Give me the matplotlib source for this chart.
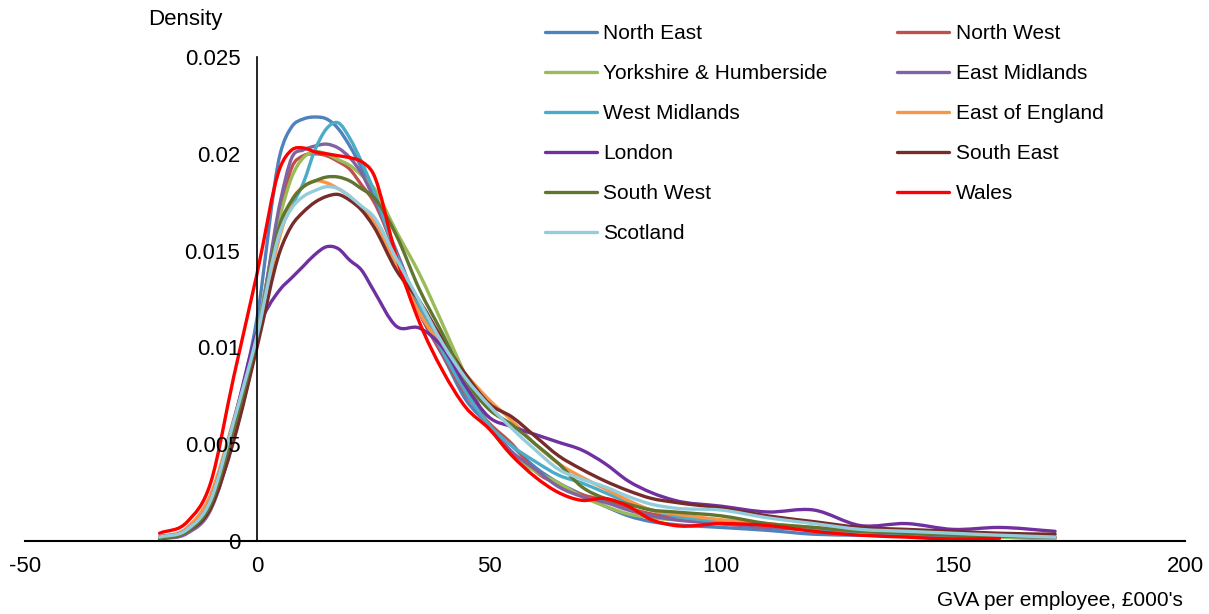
import numpy as np
import matplotlib
matplotlib.use("Agg")
import matplotlib.pyplot as plt
from matplotlib.path import Path
from matplotlib.patches import PathPatch
from matplotlib.lines import Line2D

plt.rcParams['font.family'] = ['Liberation Sans', 'DejaVu Sans']
plt.rcParams['axes.unicode_minus'] = False

# GVA per employee (£000's) at which the densities were read
gva = [-21, -15, -10, -5, 0, 5, 7.5, 10, 12.5, 15, 17.5, 20, 22.5, 25, 30, 35, 40, 45, 50,
       55, 60, 65, 70, 75, 80, 85, 90, 100, 110, 120, 130, 140, 150, 160, 172]

nan = np.nan
# densities, in thousandths
north_east = [0.2, 0.6, 2.0, 6.0, 11.5, 20.0, 21.4, 21.8, 21.9, 21.8, 21.3, 20.4, 19.3, 18.0, 14.8, 11.8, 9.6, 7.3, 6.0,
              4.9, 3.8, 3.0, 2.4, 1.8, 1.3, 1.0, 0.85, 0.7, 0.55, 0.35, 0.3, 0.25, 0.2, 0.1, nan]
north_west = [0.2, 0.6, 2.0, 6.0, 10.8, 17.0, 19.3, 19.9, 20.0, 19.9, 19.6, 19.2, 18.4, 17.6, 14.8, 11.8, 9.6, 7.6, 6.1,
              5.0, 3.6, 2.9, 2.4, 2.1, 1.7, 1.4, 1.2, 0.9, 0.7, 0.6, 0.5, 0.4, 0.3, 0.2, 0.15]
yorkshire = [0.1, 0.5, 2.0, 6.0, 10.8, 16.8, 18.8, 19.8, 20.1, 20.0, 19.7, 19.4, 18.9, 18.3, 16.0, 13.8, 11.2, 8.5, 6.0,
             4.4, 3.6, 3.0, 2.3, 1.8, 1.4, 1.2, 1.1, 1.0, 0.8, 0.6, 0.5, 0.4, 0.3, 0.2, 0.1]
east_midlands = [0.1, 0.4, 1.6, 5.3, 10.3, 17.5, 19.8, 20.2, 20.4, 20.5, 20.3, 19.8, 19.0, 17.8, 15.0, 12.0, 9.7, 7.8, 6.0,
                 4.6, 3.7, 2.8, 2.3, 2.0, 1.6, 1.3, 1.1, 0.9, 0.7, 0.6, 0.5, 0.4, 0.3, 0.25, 0.2]
west_midlands = [0.2, 0.6, 2.0, 6.0, 10.8, 16.0, 17.3, 18.5, 20.2, 21.3, 21.6, 20.8, 19.6, 18.2, 14.8, 12.2, 9.8, 7.7, 6.0,
                 4.9, 4.1, 3.4, 3.0, 2.5, 2.0, 1.6, 1.3, 1.0, 0.8, 0.6, 0.5, 0.4, 0.3, 0.25, 0.2]
east_england = [0.2, 0.7, 2.4, 6.3, 10.7, 15.8, 17.6, 18.3, 18.6, 18.5, 18.2, 17.8, 17.2, 16.6, 14.2, 11.8, 10.0, 8.6, 7.3,
                6.2, 5.0, 4.0, 3.3, 2.7, 2.1, 1.6, 1.4, 1.1, 0.9, 0.7, 0.6, 0.5, 0.4, 0.3, 0.2]
london = [0.2, 0.6, 2.1, 6.2, 10.8, 13.0, 13.6, 14.2, 14.8, 15.2, 15.1, 14.5, 14.0, 13.0, 11.1, 11.0, 10.0, 8.0, 6.4,
          5.9, 5.5, 5.1, 4.7, 4.0, 3.1, 2.5, 2.1, 1.8, 1.5, 1.6, 0.8, 0.9, 0.6, 0.7, 0.5]
south_east = [0.1, 0.5, 1.7, 5.2, 10.0, 15.0, 16.3, 17.0, 17.5, 17.8, 17.9, 17.6, 17.1, 16.3, 14.0, 12.4, 10.4, 8.6, 7.1,
              6.4, 5.4, 4.4, 3.7, 3.1, 2.6, 2.2, 2.0, 1.7, 1.3, 1.0, 0.7, 0.6, 0.5, 0.4, 0.35]
south_west = [0.1, 0.5, 1.9, 5.8, 10.5, 16.4, 17.6, 18.3, 18.6, 18.8, 18.8, 18.6, 18.2, 17.8, 15.8, 13.0, 10.7, 8.3, 6.8,
              6.0, 5.0, 4.0, 2.8, 2.2, 1.9, 1.6, 1.5, 1.3, 0.9, 0.7, 0.5, 0.4, 0.3, 0.25, 0.2]
wales = [0.4, 1.0, 3.0, 8.5, 13.8, 19.3, 20.2, 20.3, 20.1, 20.0, 19.9, 19.8, 19.6, 19.0, 14.7, 11.3, 8.8, 6.9, 5.8,
         4.4, 3.3, 2.5, 2.1, 2.2, 1.8, 1.1, 0.8, 0.9, 0.8, 0.5, 0.3, 0.2, 0.1, 0.15, nan]
scotland = [0.2, 0.6, 2.1, 6.2, 10.6, 16.0, 17.2, 17.8, 18.1, 18.3, 18.2, 17.8, 17.3, 16.8, 14.6, 12.4, 10.2, 8.4, 7.0,
            5.8, 4.7, 3.7, 3.2, 2.8, 2.3, 1.9, 1.7, 1.6, 1.2, 0.9, 0.6, 0.5, 0.4, 0.3, 0.2]

regions = ["North East", "North West", "Yorkshire & Humberside", "East Midlands", "West Midlands",
           "East of England", "London", "South East", "South West", "Wales", "Scotland"]
series = [north_east, north_west, yorkshire, east_midlands, west_midlands,
          east_england, london, south_east, south_west, wales, scotland]
colors = ['#4F81BD', '#C0504D', '#9BBB59', '#8064A2', '#4BACC6',
          '#F79646', '#7030A0', '#772C2A', '#5F7530', '#FF0000', '#93CDDD']


def smooth_path(x, y):
    # smoothed line through the read points, like Excel's "smoothed line" option
    x = np.asarray(x, float)
    y = np.asarray(y, float)
    ok = ~np.isnan(y)
    x, y = x[ok], y[ok]
    m = np.gradient(y, x)
    verts = [(x[0], y[0])]
    codes = [Path.MOVETO]
    for i in range(len(x) - 1):
        h = x[i + 1] - x[i]
        verts += [(x[i] + h / 3, y[i] + m[i] * h / 3),
                  (x[i + 1] - h / 3, y[i + 1] - m[i + 1] * h / 3),
                  (x[i + 1], y[i + 1])]
        codes += [Path.CURVE4] * 3
    return Path(verts, codes)


fig = plt.figure(figsize=(12.09, 6.14), dpi=100)
ax = fig.add_axes([25 / 1209, 73 / 614, 1160 / 1209, 484 / 614])

lines = {}
for name, vals, c in zip(regions, series, colors):
    p = smooth_path(gva, np.array(vals) / 1000)
    ax.add_patch(PathPatch(p, fill=False, edgecolor=c, lw=2.4, capstyle='round', joinstyle='round'))
    lines[name] = Line2D([], [], color=c, lw=2.4, solid_capstyle='round')

ax.set_xlim(-50, 200)
ax.set_ylim(0, 0.025)
ax.set_xticks([-50, 0, 50, 100, 150, 200])
ax.set_yticks([0, 0.005, 0.01, 0.015, 0.02, 0.025])
ax.set_yticklabels(['0', '0.005', '0.01', '0.015', '0.02', '0.025'])
ax.spines['left'].set_position(('data', 0))
ax.spines['top'].set_visible(False)
ax.spines['right'].set_visible(False)
ax.spines['bottom'].set_linewidth(1.5)
ax.spines['left'].set_linewidth(1.2)
ax.tick_params(axis='both', length=0, labelsize=16)
ax.tick_params(axis='y', pad=12)
ax.tick_params(axis='x', pad=11)

fig.text(222 / 1209, 1 - 20 / 614, 'Density', ha='right', va='center', fontsize=16)
fig.text(1183 / 1209, 1 - 600 / 614, "GVA per employee, £000's", ha='right', va='center', fontsize=15)

# legend reads row by row in the original
order = ["North East", "Yorkshire & Humberside", "West Midlands", "London", "South West", "Scotland",
         "North West", "East Midlands", "East of England", "South East", "Wales"]
fig.legend([lines[n] for n in order], order, ncol=2, frameon=False, fontsize=15,
           loc='upper left', bbox_to_anchor=(545 / 1209, 1 - 24 / 614),
           borderpad=0, borderaxespad=0, handlelength=2.5, handletextpad=0.3,
           labelspacing=1.01, columnspacing=3.34)

fig.savefig('out.png', dpi=100)
